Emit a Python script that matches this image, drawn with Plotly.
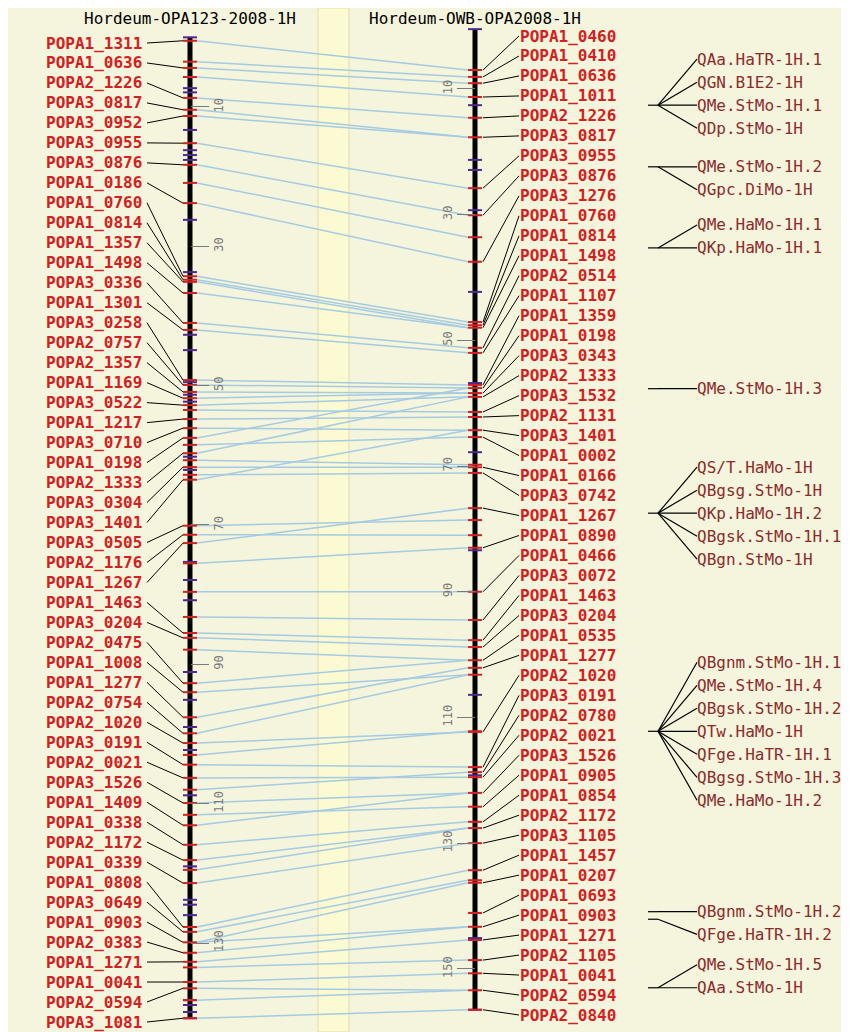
import plotly.graph_objects as go

# ---------------- data ----------------
left_title = "Hordeum-OPA123-2008-1H"
right_title = "Hordeum-OWB-OPA2008-1H"

left_names = ["POPA1_1311", "POPA1_0636", "POPA2_1226", "POPA3_0817", "POPA3_0952", "POPA3_0955",
              "POPA3_0876", "POPA1_0186", "POPA1_0760", "POPA1_0814", "POPA1_1357", "POPA1_1498",
              "POPA3_0336", "POPA1_1301", "POPA3_0258", "POPA2_0757", "POPA2_1357", "POPA1_1169",
              "POPA3_0522", "POPA1_1217", "POPA3_0710", "POPA1_0198", "POPA2_1333", "POPA3_0304",
              "POPA3_1401", "POPA3_0505", "POPA2_1176", "POPA1_1267", "POPA1_1463", "POPA3_0204",
              "POPA2_0475", "POPA1_1008", "POPA1_1277", "POPA2_0754", "POPA2_1020", "POPA3_0191",
              "POPA2_0021", "POPA3_1526", "POPA1_1409", "POPA1_0338", "POPA2_1172", "POPA1_0339",
              "POPA1_0808", "POPA3_0649", "POPA1_0903", "POPA2_0383", "POPA1_1271", "POPA1_0041",
              "POPA2_0594", "POPA3_1081"]
left_cm = [0.5, 4.4, 8.7, 10.4, 11.3, 15.2, 18.3, 23.8, 34.3, 34.8, 35.1, 36.7, 41.0, 42.0,
           49.2, 49.9, 50.9, 51.8, 52.8, 54.8, 56.1, 57.5, 59.7, 61.7, 63.5, 70.1, 71.4, 72.6,
           85.5, 86.2, 92.7, 94.0, 97.6, 99.9, 101.3, 104.4, 106.3, 109.9, 113.1, 115.9, 118.1,
           121.4, 127.7, 128.4, 129.9, 131.4, 132.7, 135.6, 136.5, 140.8]
left_other_cm = [7.3, 7.9, 13.3, 16.2, 16.9, 17.6, 26.2, 33.7, 42.7, 44.9, 49.5, 51.3, 52.3,
                 60.2, 62.1, 75.3, 77.9, 80.8, 91.1, 95.1, 99.0, 102.3, 108.8, 119.0, 123.8,
                 124.5, 126.0, 138.2, 138.9, 139.9]
left_extent = [0.0, 140.8]
left_ticks = [10, 30, 50, 70, 90, 110, 130]

right_names = ["POPA1_0460", "POPA1_0410", "POPA1_0636", "POPA1_1011", "POPA2_1226", "POPA3_0817",
               "POPA3_0955", "POPA3_0876", "POPA3_1276", "POPA1_0760", "POPA1_0814", "POPA1_1498",
               "POPA2_0514", "POPA1_1107", "POPA1_1359", "POPA1_0198", "POPA3_0343", "POPA2_1333",
               "POPA3_1532", "POPA2_1131", "POPA3_1401", "POPA1_0002", "POPA1_0166", "POPA3_0742",
               "POPA1_1267", "POPA1_0890", "POPA1_0466", "POPA3_0072", "POPA1_1463", "POPA3_0204",
               "POPA1_0535", "POPA1_1277", "POPA2_1020", "POPA3_0191", "POPA2_0780", "POPA2_0021",
               "POPA3_1526", "POPA1_0905", "POPA1_0854", "POPA2_1172", "POPA3_1105", "POPA1_1457",
               "POPA1_0207", "POPA1_0693", "POPA1_0903", "POPA1_1271", "POPA2_1105", "POPA1_0041",
               "POPA2_0594", "POPA2_0840"]
right_cm = [7.0, 8.1, 9.1, 11.3, 14.6, 17.7, 25.8, 30.1, 37.5, 47.1, 47.6, 48.0, 51.2, 52.0,
            57.1, 57.6, 58.4, 59.0, 61.4, 62.2, 64.3, 65.4, 70.2, 71.1, 76.7, 83.0, 90.0, 94.5,
            97.7, 98.8, 100.9, 102.1, 112.3, 117.9, 118.7, 119.5, 122.0, 124.2, 126.6, 127.6,
            130.0, 134.3, 136.3, 141.1, 143.3, 145.4, 148.6, 150.7, 153.4, 156.5]
right_other_cm = [12.6, 21.3, 22.9, 29.3, 42.3, 56.8, 67.8, 83.4, 106.4, 119.2, 141.1, 145.1]
right_extent = [0.5, 156.5]
right_ticks = [10, 30, 50, 70, 90, 110, 130, 150]

# extra correspondences (unlabelled loci), left cM -> right cM
corr_left_cm = [0.5, 3.5, 5.7, 11.3, 20.9, 23.8, 35.1, 41.0, 42.0, 49.2, 49.9, 50.9, 51.8, 52.8,
                53.5, 54.8, 56.1, 58.5, 60.7, 61.7, 62.8, 70.1, 71.4, 75.5, 79.6, 83.2, 87.9,
                92.7, 94.0, 99.9, 103.0, 108.0, 111.6, 113.1, 115.9, 119.5, 121.4, 127.7, 128.4,
                129.9, 131.4, 133.5, 138.2, 140.8]
corr_right_cm = [7.0, 8.1, 11.3, 17.7, 33.6, 37.5, 48.0, 51.2, 52.0, 57.1, 57.6, 58.4, 58.4, 59.0,
                 61.4, 62.2, 64.3, 65.4, 69.8, 70.2, 71.1, 78.6, 81.0, 83.0, 90.0, 94.5, 100.9,
                 100.9, 103.2, 103.2, 112.2, 118.7, 124.2, 122.0, 126.6, 127.6, 130.0, 134.3, 135.9,
                 136.3, 143.3, 148.6, 153.4, 156.5]

# QTL groups on the right map
qtl_cm = [12.6, 22.4, 35.3, 57.7, 77.5, 112.2, 140.9, 142.1, 153.0]
qtl_names = [
    ["QAa.HaTR-1H.1", "QGN.B1E2-1H", "QMe.StMo-1H.1", "QDp.StMo-1H"],
    ["QMe.StMo-1H.2", "QGpc.DiMo-1H"],
    ["QMe.HaMo-1H.1", "QKp.HaMo-1H.1"],
    ["QMe.StMo-1H.3"],
    ["QS/T.HaMo-1H", "QBgsg.StMo-1H", "QKp.HaMo-1H.2", "QBgsk.StMo-1H.1", "QBgn.StMo-1H"],
    ["QBgnm.StMo-1H.1", "QMe.StMo-1H.4", "QBgsk.StMo-1H.2", "QTw.HaMo-1H", "QFge.HaTR-1H.1",
     "QBgsg.StMo-1H.3", "QMe.HaMo-1H.2"],
    ["QBgnm.StMo-1H.2"],
    ["QFge.HaTR-1H.2"],
    ["QMe.StMo-1H.5", "QAa.StMo-1H"],
]

# ---------------- layout / style ----------------
PAGE = 8                      # default body margin of the html page (px)
VW, VH = 849, 1032            # browser viewport
W, H = VW - PAGE, VH - PAGE   # figure size
# cM -> page pixel scale of each map
L0, LK = 37.3, 6.967          # left map: page y of 0 cM, px per cM
R0, RK = 26.0, 6.286          # right map
L_TOP, L_BOT = (PAGE - L0) / LK, (VH - L0) / LK
R_TOP, R_BOT = (PAGE - R0) / RK, (VH - R0) / RK


def px_to_L(py):
    return L_TOP + (py - PAGE) / LK


def px_to_R(py):
    return R_TOP + (py - PAGE) / RK


def R_to_L(c):
    return px_to_L(R0 + c * RK)


def paper_y(py):
    return 1 - (py - PAGE) / H


LX, RX = 190, 475
TICK_HALF = 7
qtl_align = [2, 0, 1, 0, 2, 3, 0, -0.66, 1]
QTL_GAP_PX = 23

BG = "#F5F4DC"
BAND = "#FCFAD2"
RED = "#D42020"
PURPLE = "#4E2A8E"
BLUE = "#A5CBE2"
MAROON = "#8B2C2C"
GRAY = "#7A7A7A"
FONT = "DejaVu Sans Mono"


def segs(x0, x1, y0s, y1s):
    xs, ys = [], []
    for a, b in zip(y0s, y1s):
        xs += [x0, x1, None]
        ys += [a, b, None]
    return xs, ys


fig = go.Figure()

# correspondence lines
pairs_l, pairs_r = list(corr_left_cm), list(corr_right_cm)
for n, c in zip(left_names, left_cm):
    if n in right_names:
        pairs_l.append(c)
        pairs_r.append(right_cm[right_names.index(n)])
xs, ys = segs(LX + TICK_HALF, RX - TICK_HALF, pairs_l, [R_to_L(c) for c in pairs_r])
fig.add_trace(go.Scatter(x=xs, y=ys, mode="lines", line=dict(color=BLUE, width=1.5),
                         hoverinfo="skip", yaxis="y"))

# chromosomes
fig.add_trace(go.Scatter(x=[LX, LX], y=left_extent, mode="lines",
                         line=dict(color="black", width=5), hoverinfo="skip", yaxis="y"))
fig.add_trace(go.Scatter(x=[RX, RX], y=right_extent, mode="lines",
                         line=dict(color="black", width=5), hoverinfo="skip", yaxis="y2"))

# feature ticks
left_red = sorted(set(left_cm) | set(pairs_l))
right_red = sorted(set(right_cm) | set(pairs_r))
for vals, color, ax, cx in [
    (left_other_cm + left_extent, PURPLE, "y", LX),
    (left_red, RED, "y", LX),
    (right_other_cm + right_extent, PURPLE, "y2", RX),
    (right_red, RED, "y2", RX),
]:
    xs, ys = segs(cx - TICK_HALF, cx + TICK_HALF, vals, vals)
    fig.add_trace(go.Scatter(x=xs, y=ys, mode="lines", line=dict(color=color, width=2),
                             hoverinfo="skip", yaxis=ax))

# label slots (evenly spread label columns)
nL, nR = len(left_names), len(right_names)
left_slots = [px_to_L(43 + i * (1022 - 43) / (nL - 1)) for i in range(nL)]
right_slots = [px_to_R(36 + i * (1015 - 36) / (nR - 1)) for i in range(nR)]

xs, ys = segs(147, LX - TICK_HALF, left_slots, left_cm)
fig.add_trace(go.Scatter(x=xs, y=ys, mode="lines", line=dict(color="black", width=1),
                         hoverinfo="skip", yaxis="y"))
xs, ys = segs(RX + TICK_HALF + 1, 519, right_cm, right_slots)
fig.add_trace(go.Scatter(x=xs, y=ys, mode="lines", line=dict(color="black", width=1),
                         hoverinfo="skip", yaxis="y2"))

annotations = []
for n, s in zip(left_names, left_slots):
    annotations.append(dict(x=143, y=s, xref="x", yref="y", text=n, showarrow=False,
                            xanchor="right", yanchor="middle", borderpad=0,
                            font=dict(family=FONT, size=16, color=RED, weight="bold")))
for n, s in zip(right_names, right_slots):
    annotations.append(dict(x=519, y=s, xref="x", yref="y2", text=n, showarrow=False,
                            xanchor="left", yanchor="middle", borderpad=0,
                            font=dict(family=FONT, size=16, color=RED, weight="bold")))

# QTL fans
qx, qy = [], []
gap = QTL_GAP_PX / RK
for c, names, k in zip(qtl_cm, qtl_names, qtl_align):
    qx += [648, 658, None]
    qy += [c, c, None]
    for i, n in enumerate(names):
        ly = c + (i - k) * gap
        qx += [658, 697, None]
        qy += [c, ly, None]
        annotations.append(dict(x=696, y=ly, xref="x", yref="y2", text=n, showarrow=False,
                                xanchor="left", yanchor="middle", borderpad=0,
                                font=dict(family=FONT, size=16, color=MAROON)))
fig.add_trace(go.Scatter(x=qx, y=qy, mode="lines", line=dict(color="black", width=1.2),
                         hoverinfo="skip", yaxis="y2"))

# titles
annotations.append(dict(x=LX, y=paper_y(18), xref="x", yref="paper", text=left_title,
                        showarrow=False, xanchor="center", yanchor="middle", borderpad=0,
                        font=dict(family=FONT, size=16, color="black")))
annotations.append(dict(x=RX, y=paper_y(PAGE), xref="x", yref="paper", text=right_title,
                        showarrow=False, xanchor="center", yanchor="top", borderpad=0,
                        font=dict(family=FONT, size=16, color="black")))

axis_common = dict(showgrid=False, zeroline=False, showline=False, ticks="outside",
                   ticklen=18, tickwidth=1, tickcolor=GRAY, tickangle=-90,
                   tickfont=dict(family=FONT, size=12, color=GRAY), anchor="free")

fig.update_layout(
    width=W, height=H, margin=dict(l=0, r=0, t=0, b=0),
    paper_bgcolor=BG, plot_bgcolor=BG, showlegend=False,
    xaxis=dict(range=[PAGE, VW], visible=False, domain=[0, 1], fixedrange=True),
    yaxis=dict(range=[L_BOT, L_TOP], tickvals=left_ticks, side="right",
               position=(LX - PAGE) / W, **axis_common),
    yaxis2=dict(range=[R_BOT, R_TOP], tickvals=right_ticks, side="left", overlaying="y",
                position=(RX - PAGE) / W, **axis_common),
    annotations=annotations,
    shapes=[
        dict(type="rect", xref="x", yref="paper", x0=318, x1=349, y0=0, y1=1,
             fillcolor=BAND, line=dict(color="#E4DDA6", width=1), layer="below"),
    ],
)

fig.write_html("out.html")
